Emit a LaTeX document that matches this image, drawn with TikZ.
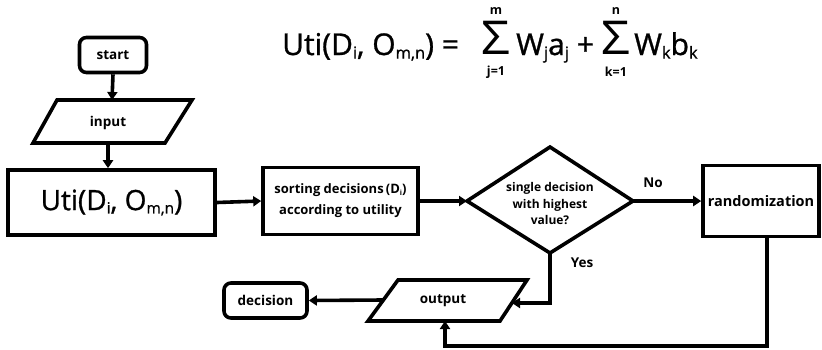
\documentclass[tikz,border=0pt]{standalone}
\usepackage{fontspec}
\usepackage{graphicx}
\setmainfont{Open Sans}
\usetikzlibrary{arrows.meta}
\newcommand{\mysb}[1]{\raisebox{-0.12em}{\scalebox{0.55}{#1}}}
\newcommand{\semib}{\addfontfeature{FakeBold=1}}
\tikzset{
  lw/.style={line width=3.6pt},
  box/.style={draw, lw, inner sep=0pt, align=center},
  rbox/.style={box, rounded corners=7pt},
  lbl/.style={font=\fontsize{13.5}{15}\selectfont\bfseries, align=center},
  lim/.style={font=\fontsize{12.5}{13}\selectfont\bfseries, inner sep=0pt},
  sig/.style={inner sep=0pt, anchor=south, font=\fontsize{44}{44}\selectfont},
  arr/.style={lw, -{Triangle[length=8pt,width=10pt]}},
  ln/.style={lw},
  frm/.style={font=\fontsize{30}{32}\selectfont\semib, inner sep=0pt, anchor=base west},
}
\begin{document}
\begin{tikzpicture}[x=1pt,y=-1pt]
\useasboundingbox (0,0) rectangle (822,349);
% formula
\node[frm] (f1) at (282,55) {Uti(D\mysb{i}, O\mysb{m,n}) =};
\node[sig] (s1) at (496,55) {\scalebox{1.15}[1.06]{Σ}};
\node[lim] (m1) at (496,11) {m};
\node[lim] (l1) at (496,72) {j=1};
\node[frm] (f2) at (516,55) {W\mysb{j}a\mysb{j} +};
\node[sig] (s2) at (616,55) {\scalebox{1.15}[1.06]{Σ}};
\node[lim] (m2) at (616,11) {n};
\node[lim] (l2) at (616,72) {k=1};
\node[frm] (f3) at (634,55) {W\mysb{k}b\mysb{k}};
% nodes
\node[rbox, minimum width=67pt, minimum height=35pt, lbl] (start) at (113,55) {start};
\coordinate (i1) at (57,100); \coordinate (i2) at (192,100);
\coordinate (i3) at (165,143); \coordinate (i4) at (33,143);
\draw[ln, line join=miter] (i1) -- (i2) -- (i3) -- (i4) -- cycle;
\node[lbl] (input) at (108,123) {input};
\coordinate (itop) at (112,100);
\coordinate (ibot) at (108,143);
\node[box, minimum width=207pt, minimum height=65pt, font=\fontsize{28}{30}\selectfont\semib] (uti) at (111.5,202.5) {Uti(D\mysb{i}, O\mysb{m,n})};
\node[box, minimum width=155pt, minimum height=67pt, lbl, font=\fontsize{13}{21}\selectfont\bfseries] (sort) at (340.5,201) {sorting decisions\,(D\mysb{i})\\according to utility};
\coordinate (dl) at (467,201); \coordinate (dt) at (550,147);
\coordinate (dr) at (633,201); \coordinate (db) at (550,253);
\draw[ln, line join=miter] (dl) -- (dt) -- (dr) -- (db) -- cycle;
\node[lbl, font=\fontsize{12}{16.5}\selectfont\bfseries] (dec) at (550,204) {single decision\\with highest\\value?};
\node[box, minimum width=116pt, minimum height=71pt, lbl, font=\fontsize{14.5}{16}\selectfont\bfseries] (rand) at (761,201) {randomization};
\coordinate (o1) at (398,280); \coordinate (o2) at (527,280);
\coordinate (o3) at (500,321); \coordinate (o4) at (368,321);
\draw[ln, line join=miter] (o1) -- (o2) -- (o3) -- (o4) -- cycle;
\node[lbl] (out) at (443,301) {output};
\node[rbox, minimum width=83pt, minimum height=35pt, lbl] (decision) at (265.5,300.5) {decision};
\node[lbl] (no) at (653,183) {No};
\node[lbl] (yes) at (582,263) {Yes};
% connectors
\draw[arr] (start.south) -- (itop);
\draw[arr] (ibot) -- (ibot |- uti.north);
\draw[arr] (uti.east) -- (sort.west);
\draw[arr] (sort.east) -- (dl);
\draw[arr] (dr) -- (rand.west);
\coordinate (yc) at (550,303);
\coordinate (oin) at (512,303);
\draw[arr] (db) -- (yc) -- (oin);
\coordinate (rb) at (767,236);
\coordinate (rc) at (767,346);
\coordinate (oc) at (445,346);
\coordinate (obot) at (445,321);
\draw[arr] (rb) -- (rc) -- (oc) -- (obot);
\coordinate (oleft) at (383,300);
\draw[arr] (oleft) -- (decision.east);
\end{tikzpicture}
\end{document}
